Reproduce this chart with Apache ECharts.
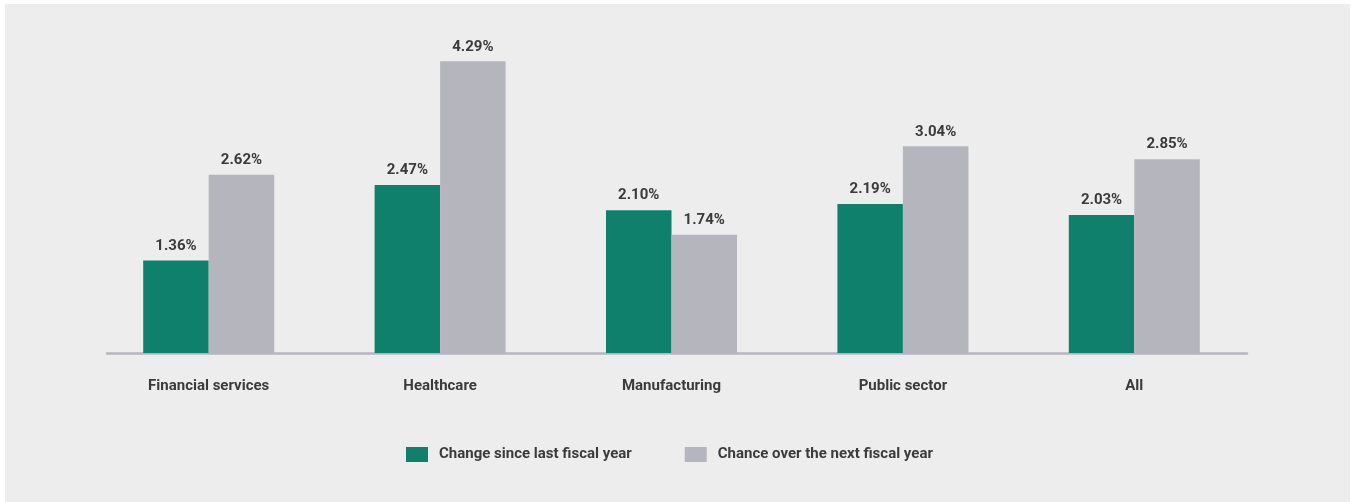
<!DOCTYPE html>
<html>
<head>
<meta charset="utf-8">
<script src="https://cdn.jsdelivr.net/npm/echarts@6/dist/echarts.min.js"></script>
<style>
  html, body { margin: 0; padding: 0; background: #ffffff; width: 1351px; height: 502px; overflow: hidden; }
  #chart { position: absolute; left: 5px; top: 4px; width: 1345px; height: 498px; }
</style>
</head>
<body>
<div id="chart"></div>
<script>
const categories = ['Financial services', 'Healthcare', 'Manufacturing', 'Public sector', 'All'];
const seriesNames = ['Change since last fiscal year', 'Chance over the next fiscal year'];
const changeSinceLast = [1.36, 2.47, 2.10, 2.19, 2.03];
const chanceOverNext = [2.62, 4.29, 1.74, 3.04, 2.85];

const FONT = 'Roboto, "Liberation Sans", Arial, sans-serif';
const TEXT = '#3b3b3e';
const labelStyle = {
  show: true,
  position: 'top',
  distance: 7,
  color: TEXT,
  fontFamily: FONT,
  fontWeight: 'bold',
  fontSize: 15,
  formatter: p => p.value.toFixed(2) + '%'
};

const chart = echarts.init(document.getElementById('chart'), null, { renderer: 'canvas' });
chart.setOption({
  backgroundColor: '#ededed',
  animation: false,
  legend: {
    left: 396,
    top: 438,
    itemWidth: 22,
    itemHeight: 15,
    itemGap: 53,
    icon: 'rect',
    textStyle: { color: TEXT, fontFamily: FONT, fontWeight: 'bold', fontSize: 15, padding: [0, 0, 0, 6] },
    data: seriesNames
  },
  grid: [
    { left: 88, right: 100, top: 9, bottom: 149 },
    { left: 102, right: 103, top: 9, bottom: 149 }
  ],
  xAxis: [
    {
      type: 'category',
      gridIndex: 0,
      data: categories,
      axisLine: { show: false },
      axisTick: { show: false },
      axisLabel: { margin: 26, color: TEXT, fontFamily: FONT, fontWeight: 'bold', fontSize: 15 }
    },
    {
      type: 'value',
      gridIndex: 1,
      min: 0, max: 1,
      axisLine: { show: true, onZero: false, lineStyle: { color: '#b6b5bd', width: 2.5 } },
      axisTick: { show: false },
      axisLabel: { show: false },
      splitLine: { show: false }
    }
  ],
  yAxis: [
    { type: 'value', gridIndex: 0, min: 0, max: 5, show: false, splitLine: { show: false } },
    { type: 'value', gridIndex: 1, min: 0, max: 1, show: false, splitLine: { show: false } }
  ],
  series: [
    {
      name: seriesNames[0],
      type: 'bar',
      xAxisIndex: 0, yAxisIndex: 0,
      data: changeSinceLast,
      barWidth: 65.5,
      barGap: '0%',
      itemStyle: { color: '#0e806c' },
      label: labelStyle,
      z: 1
    },
    {
      name: seriesNames[1],
      type: 'bar',
      xAxisIndex: 0, yAxisIndex: 0,
      data: chanceOverNext,
      barWidth: 65.5,
      barGap: '0%',
      itemStyle: { color: '#b5b5bd' },
      label: labelStyle,
      z: 1
    }
  ]
});
</script>
</body>
</html>
